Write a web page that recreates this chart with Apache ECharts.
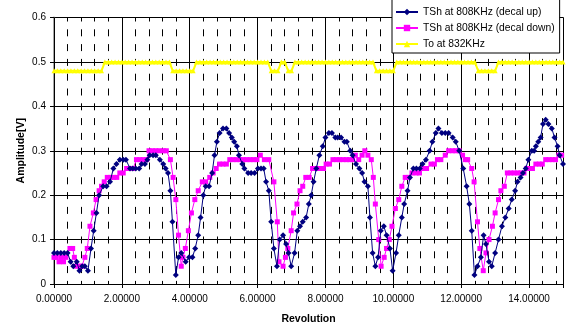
<!DOCTYPE html>
<html>
<head>
<meta charset="utf-8">
<script src="https://cdn.jsdelivr.net/npm/echarts@6/dist/echarts.min.js"></script>
<style>
  html, body { margin: 0; padding: 0; background: #fff; }
  #chart { width: 568px; height: 326px; }
</style>
</head>
<body>
<div id="chart"></div>
<script>
// TSh at 808KHz (decal up)
const upRev = [0,0.1,0.2,0.3,0.4,0.49,0.57,0.67,0.75,0.83,0.91,1.0,1.09,1.17,1.25,1.33,1.45,1.55,1.65,1.75,1.84,1.94,2.04,2.12,2.24,2.32,2.41,2.51,2.58,2.68,2.75,2.82,2.92,3.0,3.12,3.22,3.29,3.36,3.43,3.49,3.59,3.67,3.75,3.88,3.98,4.08,4.16,4.25,4.32,4.4,4.47,4.57,4.66,4.73,4.8,4.88,4.98,5.08,5.16,5.24,5.31,5.39,5.45,5.55,5.61,5.72,5.81,5.91,6.01,6.1,6.18,6.25,6.33,6.4,6.48,6.57,6.65,6.75,6.84,6.91,6.99,7.09,7.17,7.25,7.33,7.43,7.51,7.58,7.65,7.73,7.82,7.92,8.0,8.1,8.19,8.29,8.36,8.46,8.56,8.63,8.73,8.8,8.9,9.0,9.08,9.15,9.25,9.31,9.39,9.47,9.55,9.63,9.72,9.8,9.9,9.98,10.08,10.16,10.25,10.32,10.42,10.49,10.59,10.68,10.78,10.86,10.96,11.07,11.15,11.25,11.33,11.43,11.53,11.63,11.75,11.84,11.94,12.06,12.16,12.24,12.31,12.39,12.48,12.58,12.66,12.73,12.82,12.9,13.0,13.1,13.2,13.3,13.4,13.49,13.59,13.66,13.75,13.82,13.9,13.98,14.08,14.15,14.2,14.27,14.34,14.41,14.49,14.57,14.67,14.75,14.84,14.9,15.0];
const upAmp = [0.07,0.07,0.07,0.07,0.07,0.05,0.04,0.05,0.03,0.04,0.04,0.03,0.08,0.12,0.16,0.20,0.22,0.22,0.23,0.26,0.27,0.28,0.28,0.28,0.26,0.26,0.26,0.26,0.27,0.27,0.28,0.29,0.29,0.29,0.28,0.27,0.26,0.25,0.21,0.14,0.02,0.06,0.07,0.05,0.06,0.06,0.08,0.11,0.15,0.20,0.22,0.22,0.25,0.29,0.32,0.34,0.35,0.35,0.34,0.33,0.32,0.31,0.29,0.27,0.26,0.25,0.25,0.25,0.26,0.26,0.26,0.23,0.21,0.14,0.08,0.04,0.10,0.11,0.09,0.07,0.04,0.07,0.12,0.13,0.14,0.15,0.18,0.20,0.23,0.26,0.29,0.31,0.33,0.34,0.34,0.33,0.33,0.33,0.32,0.32,0.30,0.29,0.27,0.26,0.25,0.23,0.22,0.15,0.07,0.04,0.06,0.12,0.13,0.11,0.08,0.03,0.07,0.11,0.15,0.18,0.21,0.24,0.26,0.26,0.26,0.27,0.28,0.30,0.32,0.34,0.35,0.34,0.34,0.34,0.33,0.32,0.30,0.26,0.22,0.18,0.12,0.02,0.04,0.06,0.11,0.09,0.05,0.04,0.07,0.10,0.13,0.15,0.17,0.19,0.21,0.23,0.24,0.25,0.26,0.28,0.30,0.30,0.31,0.32,0.33,0.36,0.37,0.36,0.35,0.33,0.31,0.29,0.27];

// TSh at 808KHz (decal down)
const downRev = [0,0.07,0.15,0.22,0.28,0.35,0.47,0.55,0.6,0.67,0.75,0.82,0.91,0.98,1.06,1.16,1.24,1.33,1.4,1.48,1.57,1.67,1.76,1.85,1.94,2.04,2.14,2.24,2.33,2.43,2.53,2.63,2.73,2.8,2.9,3.0,3.1,3.22,3.31,3.43,3.51,3.59,3.67,3.75,3.8,3.87,3.96,4.05,4.15,4.25,4.37,4.47,4.59,4.69,4.78,4.88,4.98,5.08,5.18,5.28,5.38,5.48,5.58,5.68,5.78,5.88,5.98,6.08,6.2,6.33,6.48,6.58,6.63,6.75,6.82,6.89,6.99,7.06,7.16,7.25,7.33,7.42,7.52,7.62,7.73,7.82,7.94,8.02,8.12,8.22,8.32,8.42,8.52,8.62,8.71,8.8,8.88,8.98,9.08,9.16,9.25,9.35,9.41,9.47,9.57,9.64,9.73,9.8,9.88,9.96,10.06,10.16,10.25,10.35,10.45,10.55,10.67,10.77,10.86,10.98,11.11,11.21,11.3,11.4,11.53,11.63,11.75,11.84,11.94,12.04,12.12,12.19,12.31,12.38,12.48,12.55,12.65,12.73,12.82,12.92,13.0,13.1,13.17,13.27,13.36,13.46,13.56,13.66,13.76,13.85,13.93,14.02,14.1,14.2,14.3,14.39,14.49,14.59,14.69,14.78,14.88,14.96];
const downAmp = [0.06,0.06,0.05,0.06,0.05,0.06,0.08,0.08,0.06,0.04,0.04,0.04,0.06,0.08,0.13,0.16,0.19,0.21,0.22,0.23,0.24,0.24,0.24,0.24,0.25,0.25,0.26,0.26,0.26,0.28,0.28,0.28,0.28,0.30,0.30,0.30,0.30,0.30,0.30,0.28,0.24,0.19,0.11,0.04,0.06,0.08,0.12,0.16,0.19,0.21,0.23,0.23,0.24,0.25,0.26,0.27,0.27,0.27,0.28,0.28,0.28,0.28,0.28,0.28,0.28,0.28,0.28,0.29,0.28,0.28,0.23,0.14,0.05,0.04,0.06,0.08,0.12,0.16,0.18,0.21,0.22,0.24,0.24,0.26,0.26,0.26,0.26,0.27,0.27,0.28,0.28,0.28,0.28,0.28,0.28,0.28,0.29,0.28,0.29,0.30,0.29,0.28,0.24,0.18,0.10,0.04,0.06,0.08,0.10,0.13,0.17,0.19,0.22,0.24,0.24,0.25,0.25,0.25,0.26,0.26,0.27,0.27,0.28,0.28,0.29,0.30,0.30,0.30,0.30,0.29,0.28,0.28,0.26,0.23,0.14,0.08,0.03,0.07,0.10,0.13,0.16,0.19,0.21,0.22,0.25,0.25,0.25,0.25,0.25,0.25,0.26,0.26,0.26,0.27,0.27,0.27,0.28,0.28,0.28,0.28,0.29,0.29];

// To at 832KHz, sampled every 0.1 revolution
const toStep = 0.1;
const toAmp = [
  0.48,0.48,0.48,0.48,0.48,0.48,0.48,0.48,0.48,0.48,0.48,0.48,0.48,0.48,0.48,
  0.50,0.50,0.50,0.50,0.50,0.50,0.50,0.50,0.50,0.50,0.50,0.50,0.50,0.50,0.50,0.50,0.50,0.50,0.50,0.50,
  0.48,0.48,0.48,0.48,0.48,0.48,0.48,
  0.50,0.50,0.50,0.50,0.50,0.50,0.50,0.50,0.50,0.50,0.50,0.50,0.50,0.50,0.50,0.50,0.50,0.50,0.50,0.50,0.50,0.50,
  0.48,0.48,0.48,
  0.50,0.50,
  0.48,0.48,
  0.50,0.50,0.50,0.50,0.50,0.50,0.50,0.50,0.50,0.50,0.50,0.50,0.50,0.50,0.50,0.50,0.50,0.50,0.50,0.50,0.50,0.50,0.50,0.50,
  0.48,0.48,0.48,0.48,0.48,0.48,
  0.50,0.50,0.50,0.50,0.50,0.50,0.50,0.50,0.50,0.50,0.50,0.50,0.50,0.50,0.50,0.50,0.50,0.50,0.50,0.50,0.50,0.50,0.50,0.50,
  0.48,0.48,0.48,0.48,0.48,0.48,
  0.50,0.50,0.50,0.50,0.50,0.50,0.50,0.50,0.50,0.50,0.50,0.50,0.50,0.50,0.50,0.50,0.50,0.50,0.50,0.50
];

const seriesNames = ['TSh at 808KHz (decal up)', 'TSh at 808KHz (decal down)', 'To at 832KHz'];
const xTitle = 'Revolution';
const yTitle = 'Amplitude[V]';

const pairs = (xs, ys) => ys.map((y, i) => [xs[i], y]);
const toData = toAmp.map((y, i) => [Math.round(i * toStep * 10) / 10, y]);

const FONT = 'Liberation Sans, Arial, sans-serif';
const chart = echarts.init(document.getElementById('chart'), null, { renderer: 'canvas' });

chart.setOption({
  animation: false,
  backgroundColor: '#ffffff',
  textStyle: { fontFamily: FONT },
  grid: { left: 54, right: 5, top: 17.5, bottom: 42, containLabel: false, outerBoundsMode: 'none' },
  legend: {
    orient: 'vertical',
    left: 392,
    top: -1,
    padding: [7, 5, 3, 3],
    itemGap: 4,
    itemWidth: 22,
    itemHeight: 8,
    backgroundColor: '#ffffff',
    borderColor: '#000000',
    borderWidth: 1,
    borderRadius: 0,
    textStyle: { fontFamily: FONT, fontSize: 10.3, color: '#000', lineHeight: 12 },
    data: seriesNames
  },
  xAxis: [
    {
      type: 'value', min: 0, max: 15, interval: 2,
      name: xTitle, nameLocation: 'middle', nameGap: 30,
      nameTextStyle: { fontFamily: FONT, fontSize: 10.5, fontWeight: 'bold', color: '#000' },
      axisLine: { lineStyle: { color: '#000', width: 1 } },
      axisTick: { show: true, length: 4, lineStyle: { color: '#000' } },
      axisLabel: {
        fontFamily: FONT, fontSize: 10, color: '#000', margin: 10,
        formatter: v => (v === 15 ? '' : v.toFixed(5))
      },
      splitLine: { show: true, lineStyle: { color: '#000', width: 1 } },
      z: 3
    },
    {
      // dashed minor grid every 0.4 revolution
      type: 'value', min: 0, max: 15, interval: 0.4,
      position: 'bottom',
      axisLine: { show: false }, axisTick: { show: false }, axisLabel: { show: false },
      splitLine: { show: true, lineStyle: { color: '#000', width: 1, type: [7, 7.8], dashOffset: 3 } },
      z: 1
    }
  ],
  yAxis: [
    {
      type: 'value', min: 0, max: 0.6, interval: 0.1,
      name: yTitle, nameLocation: 'middle', nameGap: 27, nameRotate: 90, nameMoveOverlap: false,
      nameTextStyle: { fontFamily: FONT, fontSize: 10.5, fontWeight: 'bold', color: '#000' },
      axisLine: { show: true, lineStyle: { color: '#000', width: 1 } },
      axisTick: { show: true, length: 4, lineStyle: { color: '#000' } },
      axisLabel: { fontFamily: FONT, fontSize: 10, color: '#000', margin: 8 },
      splitLine: { show: true, lineStyle: { color: '#000', width: 1 } }
    },
    {
      // plot-area border on the right
      type: 'value', min: 0, max: 0.6, position: 'right',
      axisLine: { show: true, lineStyle: { color: '#a6a6a6', width: 2 } },
      axisTick: { show: false }, axisLabel: { show: false }, splitLine: { show: false }
    }
  ],
  series: [
    {
      name: seriesNames[0], type: 'line', xAxisIndex: 0, yAxisIndex: 0,
      data: pairs(upRev, upAmp),
      symbol: 'diamond', symbolSize: 6,
      lineStyle: { color: '#000080', width: 1 },
      itemStyle: { color: '#000080' },
      z: 5
    },
    {
      name: seriesNames[1], type: 'line', xAxisIndex: 0, yAxisIndex: 0,
      data: pairs(downRev, downAmp),
      symbol: 'rect', symbolSize: 5,
      lineStyle: { color: '#ff00ff', width: 1 },
      itemStyle: { color: '#ff00ff' },
      z: 4
    },
    {
      name: seriesNames[2], type: 'line', xAxisIndex: 0, yAxisIndex: 0,
      data: toData,
      symbol: 'triangle', symbolSize: 5,
      lineStyle: { color: '#ffff00', width: 2 },
      itemStyle: { color: '#ffff00' },
      z: 4
    }
  ]
});
</script>
</body>
</html>
